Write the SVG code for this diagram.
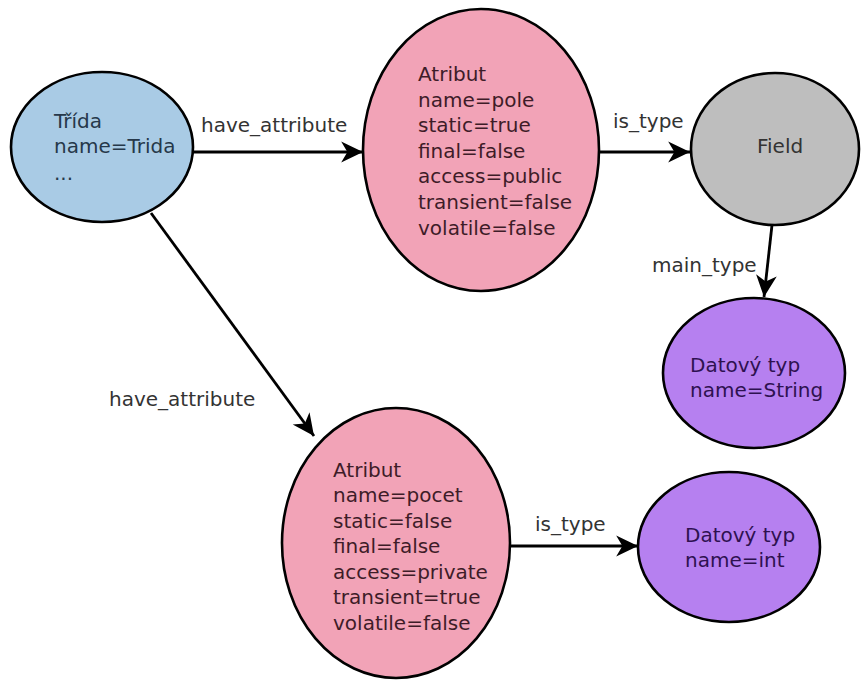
<svg xmlns="http://www.w3.org/2000/svg" width="861" height="681" viewBox="0 0 861 681">
  <defs>
    <style>
      text { font-family: "DejaVu Sans", "Noto Sans", sans-serif; font-size: 20px; }
      .node { stroke: #000; stroke-width: 2.6; }
      .cls { fill: #a9cbe5; }
      .attr { fill: #f2a3b7; }
      .field { fill: #bebebe; }
      .dtype { fill: #b680f0; }
      .t-cls { fill: #26384a; }
      .t-attr { fill: #3e1c28; }
      .t-field { fill: #333; }
      .t-dtype { fill: #2e1150; }
      .edge { stroke: #000; stroke-width: 2.8; fill: none; marker-end: url(#arrow); }
      .elabel { fill: #333; }
    </style>
    <marker id="arrow" markerUnits="userSpaceOnUse" markerWidth="26" markerHeight="26" viewBox="-23 -12 25 24" refX="0" refY="0" orient="auto">
      <path d="M0,0 L-21,-10 L-15,0 L-21,10 Z" fill="#000"/>
    </marker>
  </defs>

  <rect width="861" height="681" fill="#fff"/>

  <!-- connectors -->
  <g id="edges">
    <line class="edge" x1="193" y1="152" x2="363" y2="152"/>
    <text class="elabel" x="201" y="132">have_attribute</text>
    <line class="edge" x1="599" y1="152" x2="690" y2="152"/>
    <text class="elabel" x="613" y="128">is_type</text>
    <line class="edge" x1="772" y1="225" x2="764" y2="297"/>
    <text class="elabel" x="652" y="272">main_type</text>
    <line class="edge" x1="151" y1="213" x2="314" y2="436"/>
    <text class="elabel" x="109" y="406">have_attribute</text>
    <line class="edge" x1="510" y1="546" x2="638" y2="546"/>
    <text class="elabel" x="535" y="531">is_type</text>
  </g>

  <g id="trida">
    <ellipse class="node cls" cx="102" cy="147" rx="91" ry="75"/>
    <text class="t-cls">
      <tspan x="54" y="128">Třída</tspan>
      <tspan x="54" y="153">name=Trida</tspan>
      <tspan x="54" y="180">...</tspan>
    </text>
  </g>

  <g id="atribut-pole">
    <ellipse class="node attr" cx="481" cy="150" rx="118" ry="141"/>
    <text class="t-attr">
      <tspan x="418" y="81">Atribut</tspan>
      <tspan x="418" y="107">name=pole</tspan>
      <tspan x="418" y="132">static=true</tspan>
      <tspan x="418" y="158">final=false</tspan>
      <tspan x="418" y="183">access=public</tspan>
      <tspan x="418" y="209">transient=false</tspan>
      <tspan x="418" y="235">volatile=false</tspan>
    </text>
  </g>

  <g id="field">
    <ellipse class="node field" cx="775" cy="149" rx="84" ry="76"/>
    <text class="t-field" x="757" y="153">Field</text>
  </g>

  <g id="datovy-typ-string">
    <ellipse class="node dtype" cx="754" cy="373" rx="91" ry="75"/>
    <text class="t-dtype">
      <tspan x="690" y="372">Datový typ</tspan>
      <tspan x="690" y="397">name=String</tspan>
    </text>
  </g>

  <g id="atribut-pocet">
    <ellipse class="node attr" cx="396" cy="543" rx="114" ry="135"/>
    <text class="t-attr">
      <tspan x="333" y="477">Atribut</tspan>
      <tspan x="333" y="502">name=pocet</tspan>
      <tspan x="333" y="528">static=false</tspan>
      <tspan x="333" y="553">final=false</tspan>
      <tspan x="333" y="579">access=private</tspan>
      <tspan x="333" y="604">transient=true</tspan>
      <tspan x="333" y="630">volatile=false</tspan>
    </text>
  </g>

  <g id="datovy-typ-int">
    <ellipse class="node dtype" cx="729" cy="547" rx="91" ry="75"/>
    <text class="t-dtype">
      <tspan x="685" y="542">Datový typ</tspan>
      <tspan x="685" y="567">name=int</tspan>
    </text>
  </g>
</svg>
